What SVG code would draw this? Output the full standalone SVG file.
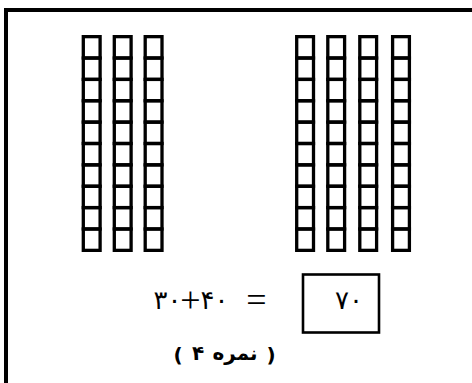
<svg xmlns="http://www.w3.org/2000/svg" xmlns:xlink="http://www.w3.org/1999/xlink" width="472" height="383" viewBox="0 0 472 383">
<style>
.cell{fill:none;stroke:#000;stroke-width:3.3}
.frame{fill:none;stroke:#000;stroke-width:4}
.box{fill:none;stroke:#000;stroke-width:2.6}
.dg{font-family:"DejaVu Sans","Noto Sans",sans-serif;font-size:26px;fill:#000}
.op{font-family:"Liberation Serif","DejaVu Serif",serif;font-size:36px;fill:#000;text-anchor:middle}
.lbl{font-family:"DejaVu Sans","Noto Sans",sans-serif;font-size:20px;font-weight:bold;fill:#000;text-anchor:middle}
</style>
<defs>
<g id="col">
<rect class="cell" x="0" y="0" width="16.8" height="21.37"/>
<rect class="cell" x="0" y="21.37" width="16.8" height="21.37"/>
<rect class="cell" x="0" y="42.74" width="16.8" height="21.37"/>
<rect class="cell" x="0" y="64.11" width="16.8" height="21.37"/>
<rect class="cell" x="0" y="85.48" width="16.8" height="21.37"/>
<rect class="cell" x="0" y="106.85" width="16.8" height="21.37"/>
<rect class="cell" x="0" y="128.22" width="16.8" height="21.37"/>
<rect class="cell" x="0" y="149.59" width="16.8" height="21.37"/>
<rect class="cell" x="0" y="170.96" width="16.8" height="21.37"/>
<rect class="cell" x="0" y="192.33" width="16.8" height="21.37"/>
</g>
</defs>
<g id="frame"><path class="frame" d="M6,383 V10 H472"/></g>
<g id="tens-30">
<use xlink:href="#col" x="83.3" y="36.65"/>
<use xlink:href="#col" x="114.3" y="36.65"/>
<use xlink:href="#col" x="145.2" y="36.65"/>
</g>
<g id="tens-40">
<use xlink:href="#col" x="296.7" y="36.65"/>
<use xlink:href="#col" x="327.8" y="36.65"/>
<use xlink:href="#col" x="359.8" y="36.65"/>
<use xlink:href="#col" x="392.6" y="36.65"/>
</g>
<g id="equation">
<text class="dg" x="153.5" y="309" letter-spacing="-7.8">۳۰</text>
<text class="op" x="190.5" y="312">+</text>
<text class="dg" x="200.5" y="309" letter-spacing="-5.3">۴۰</text>
<text class="op" x="256.5" y="312">=</text>
</g>
<g id="answer">
<rect class="box" x="303" y="274.5" width="76" height="58"/>
<text class="dg" x="335" y="309" letter-spacing="0.7">۷۰</text>
</g>
<g id="score">
<text class="lbl" x="178" y="362">(</text>
<text class="lbl" x="198" y="360">۴</text>
<text class="lbl" x="235" y="360" font-size="23">نمره</text>
<text class="lbl" x="271" y="362">)</text>
</g>
</svg>
